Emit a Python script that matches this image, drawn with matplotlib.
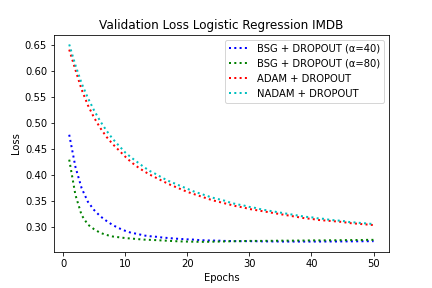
import matplotlib
matplotlib.use("Agg")
import matplotlib.pyplot as plt

epochs = list(range(1, 51))

bsg40 = [0.478, 0.416, 0.375, 0.349, 0.333, 0.321, 0.312, 0.304, 0.298, 0.293,
         0.289, 0.287, 0.284, 0.2825, 0.2815, 0.280, 0.279, 0.278, 0.2772, 0.2765,
         0.276, 0.275, 0.2745, 0.2742, 0.274, 0.2735, 0.2732, 0.273, 0.273, 0.273,
         0.2728, 0.2726, 0.2725, 0.2724, 0.2723, 0.2722, 0.2722, 0.2722, 0.2722, 0.2722,
         0.2723, 0.2723, 0.2724, 0.2724, 0.2725, 0.2726, 0.2727, 0.2728, 0.2729, 0.273]

bsg80 = [0.430, 0.362, 0.323, 0.305, 0.296, 0.289, 0.285, 0.282, 0.2805, 0.279,
         0.278, 0.277, 0.276, 0.2755, 0.275, 0.2743, 0.2737, 0.273, 0.2725, 0.2722,
         0.272, 0.2717, 0.2717, 0.272, 0.2722, 0.2725, 0.2728, 0.273, 0.2732, 0.2735,
         0.2735, 0.2735, 0.2737, 0.2737, 0.274, 0.274, 0.274, 0.2742, 0.2742, 0.2745,
         0.2745, 0.2745, 0.2747, 0.2747, 0.275, 0.275, 0.2752, 0.2752, 0.2755, 0.2755]

adam = [0.642, 0.603, 0.565, 0.535, 0.511, 0.491, 0.474, 0.460, 0.448, 0.436,
        0.425, 0.416, 0.408, 0.401, 0.395, 0.389, 0.383, 0.378, 0.373, 0.368,
        0.364, 0.360, 0.356, 0.352, 0.349, 0.346, 0.343, 0.340, 0.338, 0.335,
        0.333, 0.331, 0.329, 0.327, 0.325, 0.323, 0.321, 0.319, 0.317, 0.316,
        0.314, 0.313, 0.312, 0.311, 0.310, 0.308, 0.307, 0.306, 0.305, 0.304]

nadam = [0.652, 0.612, 0.577, 0.549, 0.525, 0.504, 0.486, 0.470, 0.457, 0.444,
         0.434, 0.425, 0.416, 0.408, 0.402, 0.395, 0.389, 0.384, 0.379, 0.374,
         0.369, 0.365, 0.361, 0.357, 0.354, 0.351, 0.347, 0.344, 0.342, 0.339,
         0.337, 0.334, 0.332, 0.330, 0.328, 0.326, 0.324, 0.322, 0.320, 0.319,
         0.317, 0.316, 0.314, 0.313, 0.312, 0.310, 0.309, 0.308, 0.307, 0.306]

labels = ["BSG + DROPOUT (\u03b1=40)", "BSG + DROPOUT (\u03b1=80)",
          "ADAM + DROPOUT", "NADAM + DROPOUT"]
colors = ["b", "g", "r", "c"]

fig, ax = plt.subplots(figsize=(6, 4), dpi=72)
fig.subplots_adjust(left=0.125, right=0.9, top=0.88, bottom=0.126)
for ys, lab, col in zip([bsg40, bsg80, adam, nadam], labels, colors):
    ax.plot(epochs, ys, linestyle=":", color=col, linewidth=2, label=lab)

ax.set_title("Validation Loss Logistic Regression IMDB")
ax.set_xlabel("Epochs")
ax.set_ylabel("Loss")
ax.legend(loc="upper right")
fig.savefig("out.png", dpi=72)
